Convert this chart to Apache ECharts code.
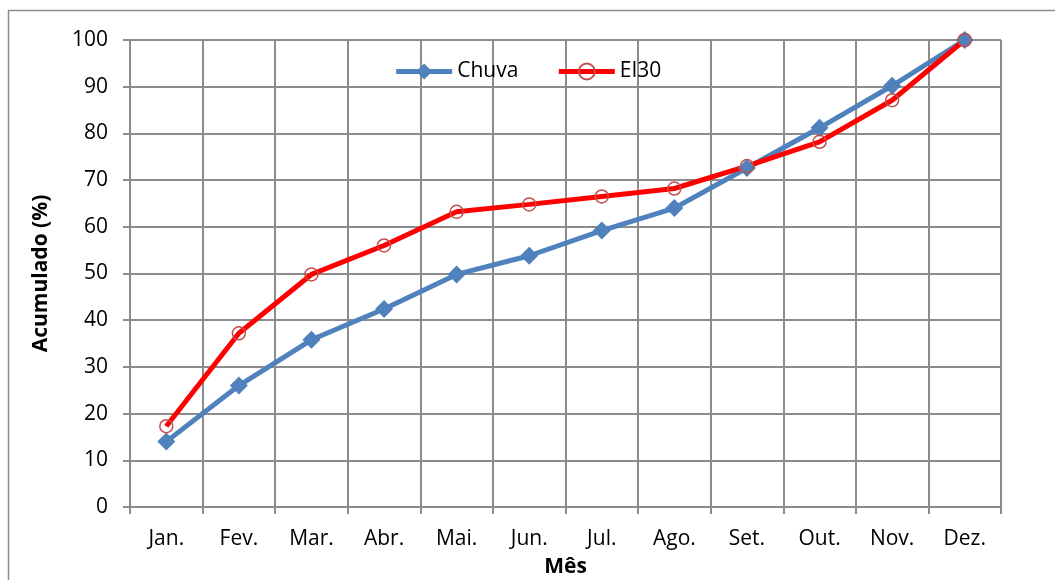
<!DOCTYPE html>
<html>
<head>
<meta charset="utf-8">
<script src="https://cdn.jsdelivr.net/npm/echarts@6/dist/echarts.min.js"></script>
<style>
  html, body { margin: 0; padding: 0; background: #fff; }
  #chart { width: 1055px; height: 580px; }
</style>
</head>
<body>
<div id="chart"></div>
<script>
var months = ['Jan.', 'Fev.', 'Mar.', 'Abr.', 'Mai.', 'Jun.', 'Jul.', 'Ago.', 'Set.', 'Out.', 'Nov.', 'Dez.'];
var chuva = [14.0, 26.0, 35.8, 42.4, 49.8, 53.8, 59.2, 64.0, 72.6, 81.2, 90.2, 100];
var ei30 = [17.3, 37.2, 49.8, 56.0, 63.2, 64.8, 66.5, 68.2, 73.0, 78.2, 87.1, 100];

var font = '"Open Sans", Lato, sans-serif';
var grey = '#8c8c8c';

var chart = echarts.init(document.getElementById('chart'));
chart.setOption({
  animation: false,
  textStyle: { fontFamily: font },
  graphic: [{
    type: 'rect',
    shape: { x: 8.5, y: 10.5, width: 1100, height: 620 },
    style: { fill: 'none', stroke: grey, lineWidth: 1.5 },
    z: -1
  }],
  grid: { left: 130, right: 54, top: 40, bottom: 73, outerBoundsMode: 'none', containLabel: false },
  legend: {
    top: 56,
    left: 'center',
    itemGap: 38,
    itemWidth: 56,
    itemHeight: 20,
    lineStyle: { width: 5 },
    textStyle: { fontSize: 21, color: '#000', fontFamily: font },
    data: ['Chuva', 'EI30']
  },
  xAxis: {
    type: 'category',
    data: months,
    boundaryGap: true,
    name: 'Mês',
    nameLocation: 'middle',
    nameGap: 50,
    nameTextStyle: { fontSize: 21, fontWeight: 'bold', color: '#000' },
    axisLine: { lineStyle: { color: grey, width: 2 } },
    axisTick: { show: true, length: 7, lineStyle: { color: grey, width: 2 } },
    axisLabel: { fontSize: 21, color: '#000', margin: 22 },
    splitLine: { show: true, lineStyle: { color: grey, width: 2 } }
  },
  yAxis: {
    type: 'value',
    min: 0,
    max: 100,
    interval: 10,
    name: 'Acumulado (%)',
    nameLocation: 'middle',
    nameGap: 78,
    nameTextStyle: { fontSize: 21, fontWeight: 'bold', color: '#000' },
    axisLine: { show: true, lineStyle: { color: grey, width: 2 } },
    axisTick: { show: true, length: 7, lineStyle: { color: grey, width: 2 } },
    axisLabel: { fontSize: 21, color: '#000', margin: 22 },
    splitLine: { show: true, lineStyle: { color: grey, width: 2 } }
  },
  series: [{
    name: 'Chuva',
    type: 'line',
    data: chuva,
    symbol: 'diamond',
    symbolSize: 18,
    color: '#4f81bd',
    lineStyle: { width: 5, color: '#4f81bd' },
    itemStyle: { color: '#4f81bd' }
  }, {
    name: 'EI30',
    type: 'line',
    data: ei30,
    symbol: 'circle',
    symbolSize: 13,
    color: '#ff0000',
    lineStyle: { width: 5, color: '#ff0000' },
    itemStyle: { color: 'transparent', borderColor: '#c0504d', borderWidth: 1.5 }
  }]
});
</script>
</body>
</html>
